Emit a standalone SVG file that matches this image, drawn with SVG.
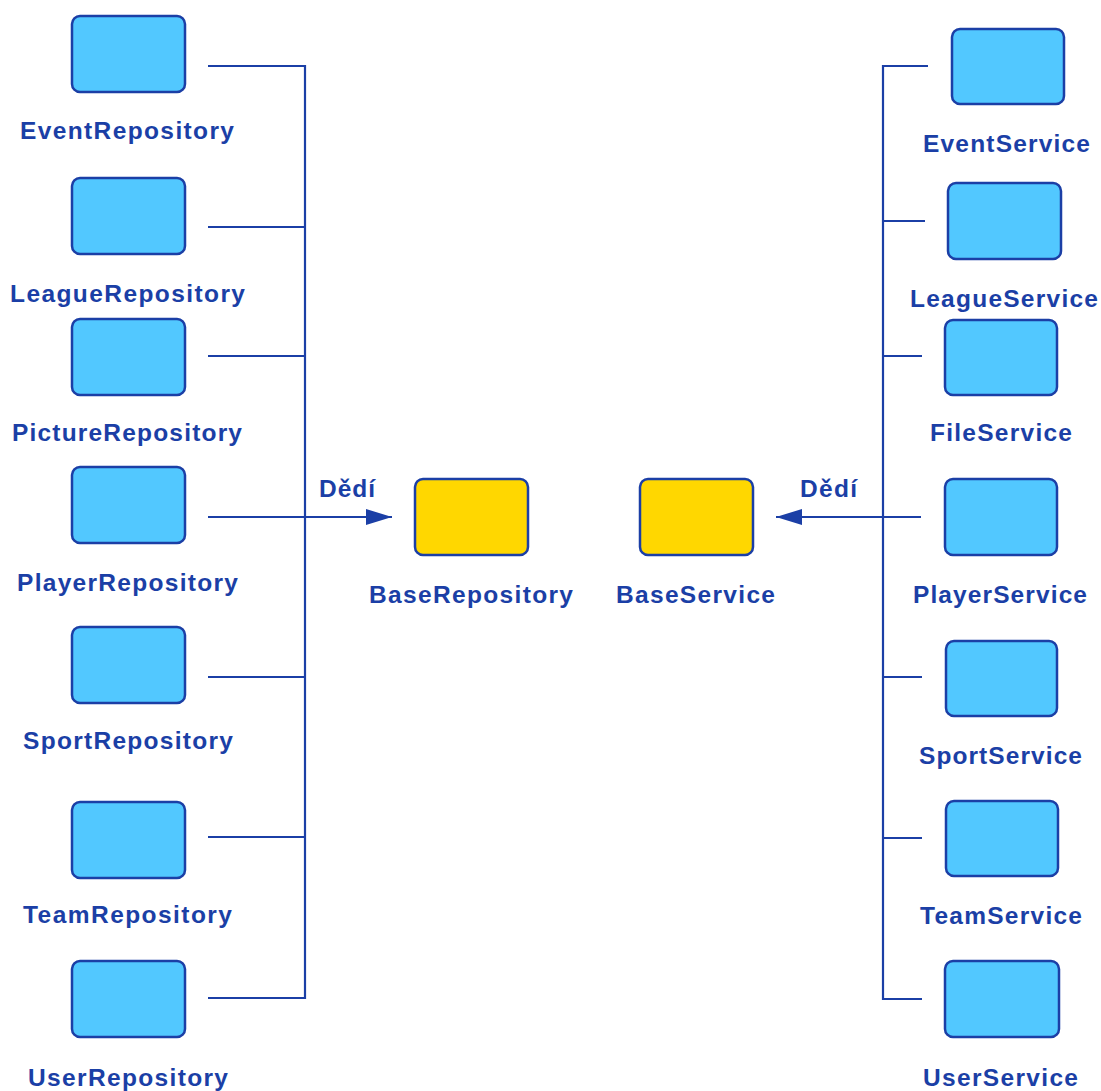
<svg xmlns="http://www.w3.org/2000/svg" width="1101" height="1091" viewBox="0 0 1101 1091">
  <defs>
    <style>
      .box { fill: #52c8ff; stroke: #1b3fa6; stroke-width: 2.5; }
      .base { fill: #ffd700; stroke: #1b3fa6; stroke-width: 2.5; }
      .lbl { font-family: "Liberation Sans", Arial, sans-serif; font-weight: bold; font-size: 24.5px; fill: #1b3fa6; text-anchor: middle; }
      .wire { fill: none; stroke: #1b3fa6; stroke-width: 2.2; }
    </style>
    <marker id="head" markerWidth="26" markerHeight="16" refX="26" refY="8" orient="auto" markerUnits="userSpaceOnUse">
      <path d="M0,0 L26,8 L0,16 Z" fill="#1b3fa6"/>
    </marker>
  </defs>
  <rect width="1101" height="1091" fill="#ffffff"/>

  <!-- connectors -->
  <g id="connectors">
    <!-- repository bus -->
    <path class="wire" d="M208,66 H305 V998 H208"/>
    <path class="wire" d="M208,227 H305"/>
    <path class="wire" d="M208,356 H305"/>
    <path class="wire" d="M208,677 H305"/>
    <path class="wire" d="M208,837 H305"/>
    <path class="wire" d="M208,517 H392" marker-end="url(#head)"/>
    <text class="lbl" x="347" y="497" textLength="56" lengthAdjust="spacing">Dědí</text>
    <!-- service bus -->
    <path class="wire" d="M928,66 H883 V999 H922"/>
    <path class="wire" d="M925,221 H883"/>
    <path class="wire" d="M922,356 H883"/>
    <path class="wire" d="M922,677 H883"/>
    <path class="wire" d="M922,838 H883"/>
    <path class="wire" d="M921,517 H776" marker-end="url(#head)"/>
    <text class="lbl" x="828.5" y="497" textLength="57" lengthAdjust="spacing">Dědí</text>
  </g>

  <!-- repositories -->
  <g id="EventRepository"><rect class="box" x="72" y="16" width="113" height="76" rx="8"/><text class="lbl" x="127" y="139" textLength="214" lengthAdjust="spacing">EventRepository</text></g>
  <g id="LeagueRepository"><rect class="box" x="72" y="178" width="113" height="76" rx="8"/><text class="lbl" x="127.5" y="302" textLength="235" lengthAdjust="spacing">LeagueRepository</text></g>
  <g id="PictureRepository"><rect class="box" x="72" y="319" width="113" height="76" rx="8"/><text class="lbl" x="127" y="441" textLength="230" lengthAdjust="spacing">PictureRepository</text></g>
  <g id="PlayerRepository"><rect class="box" x="72" y="467" width="113" height="76" rx="8"/><text class="lbl" x="127.5" y="591" textLength="221" lengthAdjust="spacing">PlayerRepository</text></g>
  <g id="SportRepository"><rect class="box" x="72" y="627" width="113" height="76" rx="8"/><text class="lbl" x="128" y="749" textLength="210" lengthAdjust="spacing">SportRepository</text></g>
  <g id="TeamRepository"><rect class="box" x="72" y="802" width="113" height="76" rx="8"/><text class="lbl" x="127.5" y="923" textLength="209" lengthAdjust="spacing">TeamRepository</text></g>
  <g id="UserRepository"><rect class="box" x="72" y="961" width="113" height="76" rx="8"/><text class="lbl" x="128" y="1086" textLength="200" lengthAdjust="spacing">UserRepository</text></g>

  <!-- base classes -->
  <g id="BaseRepository"><rect class="base" x="415" y="479" width="113" height="76" rx="8"/><text class="lbl" x="471" y="603" textLength="204" lengthAdjust="spacing">BaseRepository</text></g>
  <g id="BaseService"><rect class="base" x="640" y="479" width="113" height="76" rx="8"/><text class="lbl" x="695.5" y="603" textLength="159" lengthAdjust="spacing">BaseService</text></g>

  <!-- services -->
  <g id="EventService"><rect class="box" x="952" y="29" width="112" height="75" rx="8"/><text class="lbl" x="1006.5" y="152" textLength="167" lengthAdjust="spacing">EventService</text></g>
  <g id="LeagueService"><rect class="box" x="948" y="183" width="113" height="76" rx="8"/><text class="lbl" x="1004" y="307" textLength="188" lengthAdjust="spacing">LeagueService</text></g>
  <g id="FileService"><rect class="box" x="945" y="320" width="112" height="75" rx="8"/><text class="lbl" x="1001" y="441" textLength="142" lengthAdjust="spacing">FileService</text></g>
  <g id="PlayerService"><rect class="box" x="945" y="479" width="112" height="76" rx="8"/><text class="lbl" x="1000" y="603" textLength="174" lengthAdjust="spacing">PlayerService</text></g>
  <g id="SportService"><rect class="box" x="946" y="641" width="111" height="75" rx="8"/><text class="lbl" x="1000.5" y="764" textLength="163" lengthAdjust="spacing">SportService</text></g>
  <g id="TeamService"><rect class="box" x="946" y="801" width="112" height="75" rx="8"/><text class="lbl" x="1001" y="924" textLength="162" lengthAdjust="spacing">TeamService</text></g>
  <g id="UserService"><rect class="box" x="945" y="961" width="114" height="76" rx="8"/><text class="lbl" x="1000.5" y="1086" textLength="155" lengthAdjust="spacing">UserService</text></g>
</svg>
